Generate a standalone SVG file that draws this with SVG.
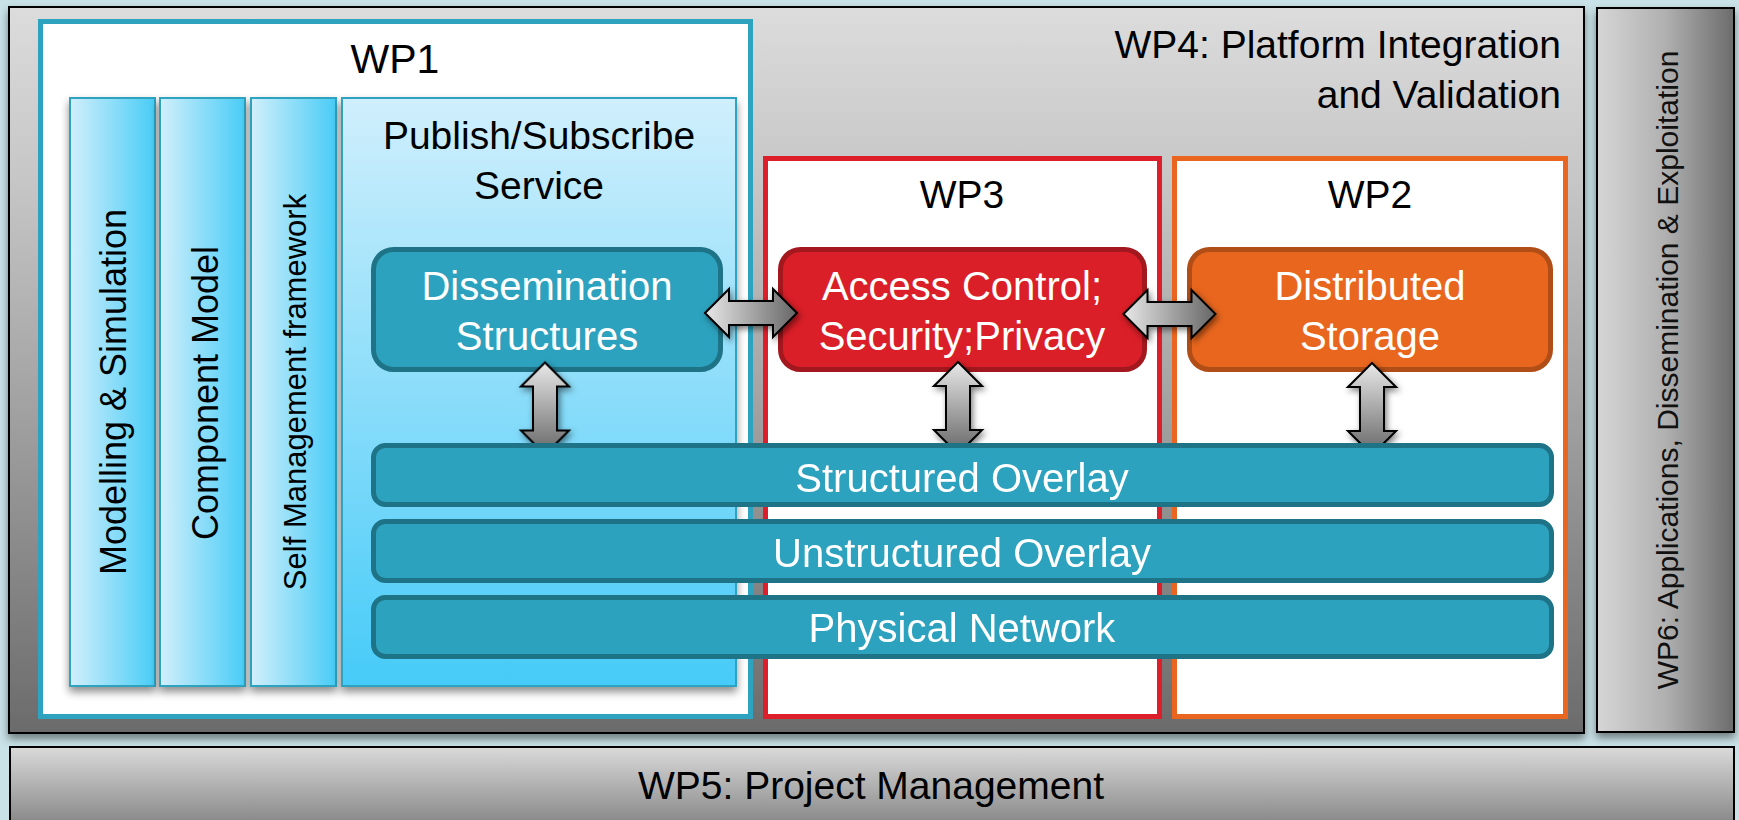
<svg xmlns="http://www.w3.org/2000/svg" width="1739" height="820" viewBox="0 0 1739 820">
<defs>
  <linearGradient id="gWP4" x1="0" y1="0" x2="0" y2="1">
    <stop offset="0" stop-color="#dcdcdc"/>
    <stop offset="0.25" stop-color="#c5c5c5"/>
    <stop offset="0.6" stop-color="#9c9c9c"/>
    <stop offset="1" stop-color="#6b6b6b"/>
  </linearGradient>
  <linearGradient id="gWP6" x1="0" y1="0" x2="1" y2="0">
    <stop offset="0" stop-color="#d6d6d6"/>
    <stop offset="0.5" stop-color="#b0b0b0"/>
    <stop offset="1" stop-color="#6c6c6c"/>
  </linearGradient>
  <linearGradient id="gWP5" x1="0" y1="0" x2="0" y2="1">
    <stop offset="0" stop-color="#dadada"/>
    <stop offset="1" stop-color="#747474"/>
  </linearGradient>
  <linearGradient id="gCol" x1="0" y1="0" x2="1" y2="0">
    <stop offset="0" stop-color="#d2effb"/>
    <stop offset="1" stop-color="#48ccf6"/>
  </linearGradient>
  <linearGradient id="gPub" x1="0" y1="0" x2="0" y2="1">
    <stop offset="0" stop-color="#d0effc"/>
    <stop offset="1" stop-color="#46cbf8"/>
  </linearGradient>
  <linearGradient id="gArr" x1="0" y1="0" x2="1" y2="0">
    <stop offset="0" stop-color="#e8e8e8"/>
    <stop offset="1" stop-color="#666666"/>
  </linearGradient>
  <filter id="sh" x="-10%" y="-10%" width="120%" height="130%">
    <feDropShadow dx="0" dy="5" stdDeviation="4" flood-color="#000" flood-opacity="0.45"/>
  </filter>
  <filter id="shA" x="-30%" y="-30%" width="160%" height="160%">
    <feDropShadow dx="2" dy="3" stdDeviation="3" flood-color="#000" flood-opacity="0.5"/>
  </filter>
  <path id="arr" d="M-46,0 L-22,-24 L-22,-12 L22,-12 L22,-24 L46,0 L22,24 L22,12 L-22,12 L-22,24 Z"/>
  <style>
    .t { font-family: "Liberation Sans", Arial, sans-serif; }
    .blk { fill: #000; }
    .wht { fill: #fff; }
    .wpbox { stroke: #000; stroke-width: 2; }
    .col { fill: url(#gCol); stroke: #2ea3bf; stroke-width: 2; }
    .teal { fill: #2da2be; stroke: #1f7387; stroke-width: 5; }
    .arrow { fill: url(#gArr); stroke: #000; stroke-width: 2; stroke-linejoin: miter; }
  </style>
</defs>

<rect x="0" y="0" width="1739" height="820" fill="#c9e2e7"/>

<g id="wp4">
  <rect class="wpbox" x="9" y="7" width="1575" height="726" fill="url(#gWP4)" filter="url(#sh)"/>
  <text class="t blk" x="1561" y="58" font-size="39" text-anchor="end">WP4: Platform Integration</text>
  <text class="t blk" x="1561" y="108" font-size="39" text-anchor="end">and Validation</text>
</g>

<g id="wp6">
  <rect class="wpbox" x="1597" y="8" width="137" height="724" fill="url(#gWP6)" filter="url(#sh)"/>
  <text class="t" fill="#111" font-size="30" text-anchor="middle" transform="translate(1678,370) rotate(-90)">WP6: Applications, Dissemination &amp; Exploitation</text>
</g>

<g id="wp5">
  <rect class="wpbox" x="10" y="747" width="1724" height="95" fill="url(#gWP5)"/>
  <text class="t blk" x="871" y="799" font-size="39" text-anchor="middle">WP5: Project Management</text>
</g>

<g id="wp1">
  <rect x="40.5" y="21.5" width="710" height="695" fill="#fff" stroke="#2ea3bf" stroke-width="5"/>
  <text class="t blk" x="395" y="73" font-size="41" text-anchor="middle">WP1</text>
</g>

<g id="modelling">
  <rect class="col" x="70" y="98" width="85" height="588" filter="url(#sh)"/>
  <text class="t blk" font-size="36" text-anchor="middle" transform="translate(126,392) rotate(-90)">Modelling &amp; Simulation</text>
</g>
<g id="component">
  <rect class="col" x="160" y="98" width="85" height="588" filter="url(#sh)"/>
  <text class="t blk" font-size="36" text-anchor="middle" transform="translate(218,393) rotate(-90)">Component Model</text>
</g>
<g id="selfmgmt">
  <rect class="col" x="251" y="98" width="85" height="588" filter="url(#sh)"/>
  <text class="t blk" font-size="31" text-anchor="middle" transform="translate(306,392) rotate(-90)">Self Management framework</text>
</g>
<g id="pubsub">
  <rect x="342" y="98" width="394" height="588" fill="url(#gPub)" stroke="#2ea3bf" stroke-width="2" filter="url(#sh)"/>
  <text class="t blk" x="539" y="149" font-size="39" text-anchor="middle">Publish/Subscribe</text>
  <text class="t blk" x="539" y="199" font-size="39" text-anchor="middle">Service</text>
</g>

<g id="wp3">
  <rect x="765.5" y="158.5" width="394" height="558" fill="#fff" stroke="#dc1f2b" stroke-width="5"/>
  <text class="t blk" x="962" y="208" font-size="39" text-anchor="middle">WP3</text>
</g>

<g id="wp2">
  <rect x="1174.5" y="158.5" width="391" height="558" fill="#fff" stroke="#ea6620" stroke-width="5"/>
  <text class="t blk" x="1370" y="208" font-size="39" text-anchor="middle">WP2</text>
</g>

<g id="dissemination">
  <rect class="teal" x="373.5" y="249.5" width="347" height="120" rx="20"/>
  <text class="t wht" x="547" y="300" font-size="40" text-anchor="middle">Dissemination</text>
  <text class="t wht" x="547" y="350" font-size="40" text-anchor="middle">Structures</text>
</g>

<g id="access">
  <rect x="780.5" y="249.5" width="364" height="120" rx="20" fill="#da1f28" stroke="#a3171e" stroke-width="5"/>
  <text class="t wht" x="962" y="300" font-size="40" text-anchor="middle">Access Control;</text>
  <text class="t wht" x="962" y="350" font-size="40" text-anchor="middle">Security;Privacy</text>
</g>

<g id="storage">
  <rect x="1189.5" y="249.5" width="361" height="120" rx="20" fill="#e9661e" stroke="#b14e18" stroke-width="5"/>
  <text class="t wht" x="1370" y="300" font-size="40" text-anchor="middle">Distributed</text>
  <text class="t wht" x="1370" y="350" font-size="40" text-anchor="middle">Storage</text>
</g>

<g id="connectors" filter="url(#shA)">
  <use href="#arr" class="arrow" transform="translate(751,313)"/>
  <use href="#arr" class="arrow" transform="translate(1169.5,314)"/>
  <use href="#arr" class="arrow" transform="translate(545,408.5) rotate(90)"/>
  <use href="#arr" class="arrow" transform="translate(958,408) rotate(90)"/>
  <use href="#arr" class="arrow" transform="translate(1372,409) rotate(90)"/>
</g>

<g id="structured">
  <rect class="teal" x="373.5" y="445.5" width="1178" height="59" rx="12"/>
  <text class="t wht" x="962" y="492" font-size="40" text-anchor="middle">Structured Overlay</text>
</g>
<g id="unstructured">
  <rect class="teal" x="373.5" y="521.5" width="1178" height="59" rx="12"/>
  <text class="t wht" x="962" y="567" font-size="40" text-anchor="middle">Unstructured Overlay</text>
</g>
<g id="physical">
  <rect class="teal" x="373.5" y="597.5" width="1178" height="59" rx="12"/>
  <text class="t wht" x="962" y="642" font-size="40" text-anchor="middle">Physical Network</text>
</g>
</svg>
